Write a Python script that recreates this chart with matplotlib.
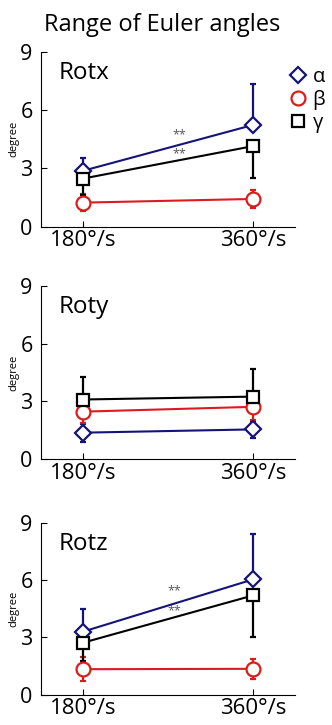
import matplotlib
matplotlib.use('Agg')
import matplotlib.pyplot as plt
from matplotlib.lines import Line2D

plt.rcParams['font.family'] = ['Open Sans', 'DejaVu Sans']
plt.rcParams['xtick.direction'] = 'in'
plt.rcParams['ytick.direction'] = 'in'

speeds = ['180°/s', '360°/s']
panels = ['Rotx', 'Roty', 'Rotz']
names = ['α', 'β', 'γ']

# mean values per panel: alpha, beta, gamma
rotx_alpha = [2.88, 5.24]
rotx_beta = [1.24, 1.43]
rotx_gamma = [2.48, 4.15]
roty_alpha = [1.38, 1.55]
roty_beta = [2.47, 2.72]
roty_gamma = [3.10, 3.25]
rotz_alpha = [3.30, 6.04]
rotz_beta = [1.33, 1.35]
rotz_gamma = [2.72, 5.20]

# error bars (lower, upper)
rotx_alpha_err = [[0, 0], [0.68, 2.10]]
rotx_beta_err = [[0.42, 0.45], [0.42, 0.45]]
rotx_gamma_err = [[0.85, 1.66], [0, 0]]
roty_alpha_err = [[0.46, 0.46], [0.46, 0.46]]
roty_beta_err = [[0.60, 0.70], [0.60, 0.70]]
roty_gamma_err = [[0, 0], [1.18, 1.45]]
rotz_alpha_err = [[0, 0], [1.18, 2.36]]
rotz_beta_err = [[0.62, 0.52], [0.62, 0.52]]
rotz_gamma_err = [[0.98, 2.17], [0, 0]]

# significance marks (x, y) per panel
stars_x = [[1.565, 1.565], [], [1.54, 1.54]]
stars_y = [[4.72, 3.74], [], [5.46, 4.39]]

means = [[rotx_alpha, rotx_beta, rotx_gamma],
         [roty_alpha, roty_beta, roty_gamma],
         [rotz_alpha, rotz_beta, rotz_gamma]]
errs = [[rotx_alpha_err, rotx_beta_err, rotx_gamma_err],
        [roty_alpha_err, roty_beta_err, roty_gamma_err],
        [rotz_alpha_err, rotz_beta_err, rotz_gamma_err]]

colors = ['#141478', '#dc1c1c', '#000000']
markers = ['D', 'o', 's']
msizes = [8, 10, 9]

fig = plt.figure(figsize=(3.32, 7.25), dpi=100)
rects = [[0.1235, 0.6873, 0.765, 0.241],
         [0.1235, 0.3665, 0.765, 0.2394],
         [0.1235, 0.0420, 0.765, 0.2366]]
x = [1, 2]

for i, r in enumerate(rects):
    ax = fig.add_axes(r)
    for j in range(3):
        ax.errorbar(x, means[i][j], yerr=errs[i][j], color=colors[j],
                    marker=markers[j], ms=msizes[j], mfc='white', mec=colors[j],
                    mew=1.6, lw=1.5, elinewidth=1.6, capsize=2, capthick=2)
    for sx, sy in zip(stars_x[i], stars_y[i]):
        ax.text(sx, sy, '**', fontsize=9, color='#555555', ha='center', va='center')
    ax.text(0.07, 0.845, panels[i], transform=ax.transAxes, fontsize=17.5,
            va='baseline', ha='left')
    ax.set_xlim(0.753, 2.247)
    ax.set_ylim(0, 9)
    ax.set_yticks([0, 3, 6, 9])
    ax.set_xticks(x)
    ax.set_xticklabels(speeds)
    ax.tick_params(axis='y', labelsize=15.5, length=4, pad=6)
    ax.tick_params(axis='x', labelsize=16, length=4, pad=2.5)
    ax.spines['top'].set_visible(False)
    ax.spines['right'].set_visible(False)
    ax.spines['left'].set_linewidth(0.8)
    ax.spines['bottom'].set_linewidth(0.8)
    ax.set_ylabel('degree', fontsize=8, labelpad=1)

handles = [Line2D([], [], ls='none', marker=markers[j], ms=msizes[j], mfc='white',
                  mec=colors[j], mew=1.6) for j in range(3)]
fig.legend(handles, names, loc='upper left', bbox_to_anchor=(0.866, 0.908),
           frameon=False, fontsize=14.5, handlelength=1.0, handletextpad=0.25,
           labelspacing=0.15, borderpad=0, borderaxespad=0)

fig.text(0.488, 0.9577, 'Range of Euler angles', fontsize=17, ha='center',
         va='baseline')

fig.savefig('out.png', dpi=100)
